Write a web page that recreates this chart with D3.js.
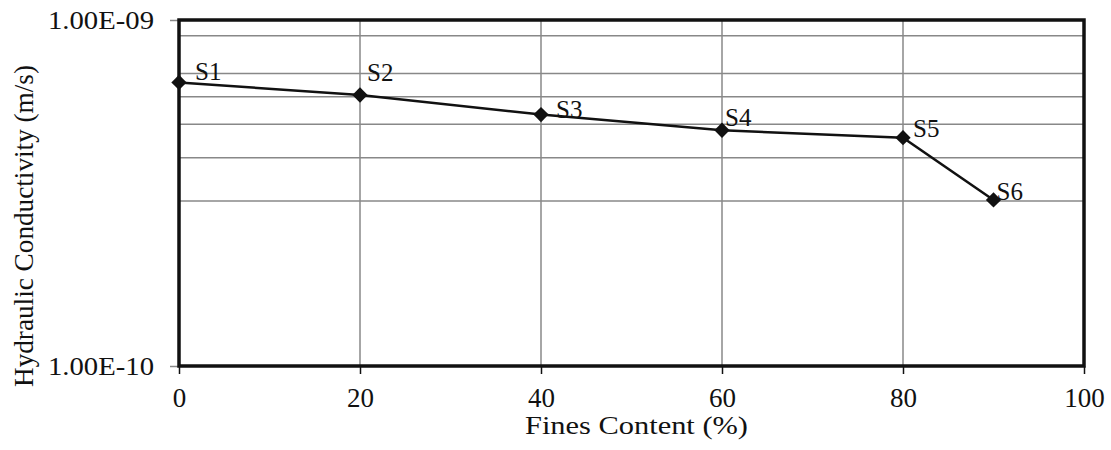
<!DOCTYPE html>
<html><head><meta charset="utf-8">
<script src="https://cdn.jsdelivr.net/npm/d3@7"></script>
<style>body{margin:0;background:#fff}text{font-family:"Liberation Serif","Times New Roman",serif;fill:#111}</style>
</head><body>
<svg id="c" width="1111" height="450"></svg>
<script>
const samples = ["S1","S2","S3","S4","S5","S6"];
const finesContent = [0, 20, 40, 60, 80, 90];
const conductivity = [6.6e-10, 6.07e-10, 5.33e-10, 4.8e-10, 4.57e-10, 3.02e-10];
const xTicks = [0, 20, 40, 60, 80, 100];
const yTicks = [1e-10, 1e-9];
const yGrid = [3e-10, 4e-10, 5e-10, 6e-10, 7e-10, 9e-10];
const labelOffsets = [[16,-2],[7,-14],[15,3],[3,-4],[10,-1],[3,0]];

const svg = d3.select("#c");
const L = 179, R = 1084, T = 20, B = 366;
const x = d3.scaleLinear().domain([0,100]).range([L,R]);
const y = d3.scaleLog().domain([1e-10,1e-9]).range([B,T]);

// gridlines
svg.append("g").selectAll("line").data(yGrid).join("line")
  .attr("x1",L).attr("x2",R).attr("y1",d=>y(d)).attr("y2",d=>y(d))
  .attr("stroke","#888").attr("stroke-width",1.5);
svg.append("g").selectAll("line").data(xTicks.slice(1,-1)).join("line")
  .attr("x1",d=>x(d)).attr("x2",d=>x(d)).attr("y1",T).attr("y2",B)
  .attr("stroke","#888").attr("stroke-width",1.5);

// x axis ticks + labels
const xa = svg.append("g").attr("transform",`translate(0,${B})`)
  .call(d3.axisBottom(x).tickValues(xTicks).tickSize(8).tickPadding(14).tickFormat(d3.format("d")));
xa.select(".domain").remove();
xa.attr("font-size",null).attr("font-family",null);
xa.selectAll("line").attr("stroke","#111").attr("stroke-width",1.5);
xa.selectAll("text").style("font-size","27px").style("font-family","'Liberation Serif'").attr("fill","#111");

// y axis ticks + labels
const ya = svg.append("g").attr("transform",`translate(${L},0)`)
  .call(d3.axisLeft(y).tickValues(yTicks).tickSize(9).tickPadding(16)
    .tickFormat(d => d3.format(".2e")(d).toUpperCase().replace(/E-(\d)$/,"E-0$1")));
ya.select(".domain").remove();
ya.attr("font-size",null).attr("font-family",null);
ya.selectAll("line").attr("stroke","#888").attr("stroke-width",1.5);
ya.selectAll("text").style("font-size","26px").style("font-family","'Liberation Serif'").attr("fill","#111")
  .attr("textLength",106).attr("lengthAdjust","spacingAndGlyphs");

// frame
svg.append("rect").attr("x",L).attr("y",T).attr("width",R-L).attr("height",B-T)
  .attr("fill","none").attr("stroke","#111").attr("stroke-width",3.5);

// line
const pts = finesContent.map((f,i)=>[f,conductivity[i]]);
svg.append("path").datum(pts)
  .attr("d", d3.line().x(d=>x(d[0])).y(d=>y(d[1])))
  .attr("fill","none").attr("stroke","#111").attr("stroke-width",2.5);

// markers
svg.append("g").selectAll("path").data(pts).join("path")
  .attr("transform",d=>`translate(${x(d[0])},${y(d[1])})`)
  .attr("d", d3.symbol(d3.symbolDiamond2, 150)())
  .attr("fill","#111");

// data labels
svg.append("g").selectAll("text").data(pts).join("text")
  .attr("x",(d,i)=>x(d[0])+labelOffsets[i][0])
  .attr("y",(d,i)=>y(d[1])+labelOffsets[i][1])
  .attr("font-size",25)
  .text((d,i)=>samples[i]);

// axis titles
svg.append("text").attr("x",(525+748)/2).attr("y",434).attr("text-anchor","middle")
  .attr("font-size",26).attr("textLength",223).attr("lengthAdjust","spacingAndGlyphs")
  .text("Fines Content (%)");
svg.append("text").attr("transform","translate(33,226) rotate(-90)").attr("text-anchor","middle")
  .attr("font-size",27).attr("textLength",322).attr("lengthAdjust","spacingAndGlyphs")
  .text("Hydraulic Conductivity (m/s)");
</script>
</body></html>
